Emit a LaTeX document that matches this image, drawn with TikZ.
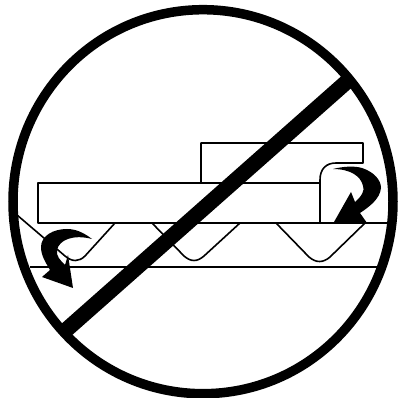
\documentclass[tikz,border=0pt]{standalone}
\usepackage{tikz}
\tikzset{
  outline/.style={line width=1.6pt, line join=round},
  bar/.style={line width=9.5pt},
}
\begin{document}
\begin{tikzpicture}[x=1pt, y=-1pt]
  \useasboundingbox (0,0) rectangle (402,398);
  % ground and teeth
  \draw[outline] (30,267) -- (380,267);
  \draw[outline] (320,223) -- (391,223);
  \draw[outline] (17,215) -- (65,256) .. controls (72,262) and (79,262) .. (85,256) -- (115,223);
  \draw[outline] (152,223) -- (184,256) .. controls (191,262) and (197,262) .. (204,256) -- (240,223);
  \draw[outline] (276,223) -- (309,257) .. controls (316,263) and (323,263) .. (330,257) -- (365,223);
  % slab and upper plate
  \draw[outline] (38,183) rectangle (320,223);
  \draw[outline] (201,183) -- (201,143) -- (363,143) -- (363,163) -- (336,163) .. controls (326,163) and (320,169) .. (320,180) -- (320,183);
  % arrows
  \fill[black] (92,239) .. controls (83,232) and (75,229) .. (67,229) .. controls (53,229) and (41,236) .. (41,247)
    .. controls (41,256) and (46,263) .. (50,270) -- (42,277) -- (73,288) -- (68,255) -- (65,265)
    .. controls (60,260) and (56,256) .. (57,250) .. controls (59,240) and (73,234) .. (92,239) -- cycle;
  \fill[black] (333,169) .. controls (345,166) and (355,166) .. (362,168) .. controls (374,172) and (381,180) .. (381,188)
    .. controls (380,199) and (369,207) .. (360,213) -- (367,223) -- (334,222) -- (351,192) -- (355,202)
    .. controls (362,196) and (365,190) .. (363,186) .. controls (361,176) and (350,169) .. (333,169) -- cycle;
  % ring and slash
  \draw[bar] (203,201.7) ellipse (190 and 192);
  \draw[line width=15.5pt] (65,331) -- (351,78);
\end{tikzpicture}
\end{document}
